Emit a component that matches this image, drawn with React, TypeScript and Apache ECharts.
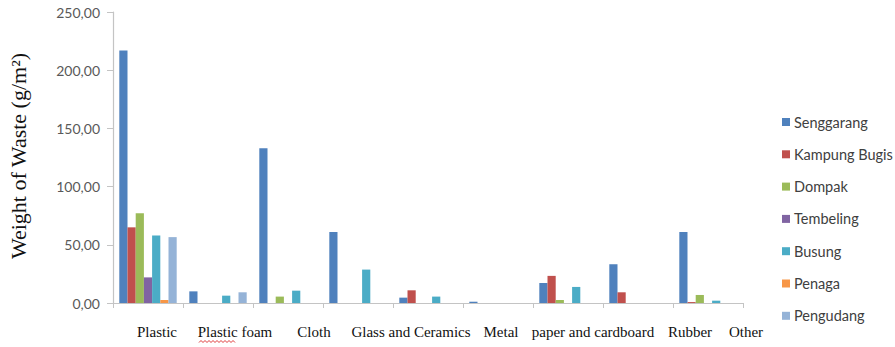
import React, { useEffect, useRef } from "react";
import * as echarts from "echarts";

// Nine bar groups along the x axis (one slot per group)
const slots = ["1", "2", "3", "4", "5", "6", "7", "8", "9"];

// Waste type captions printed beneath the axis
const wasteTypes = [
  "Plastic",
  "Plastic foam",
  "Cloth",
  "Glass and Ceramics",
  "Metal",
  "paper and cardboard",
  "Rubber",
  "Other",
];

const locations = [
  "Senggarang",
  "Kampung Bugis",
  "Dompak",
  "Tembeling",
  "Busung",
  "Penaga",
  "Pengudang",
];

// Weight of waste (g/m²) per location, one value per slot
const senggarang = [217, 10, 133, 61, 4.6, 1.1, 17.2, 33.3, 61];
const kampungBugis = [65, 0, 0, 0, 10.9, 0, 23.3, 9.2, 0.8];
const dompak = [77, 0, 5.5, 0, 0, 0, 2.6, 0, 6.9];
const tembeling = [22, 0, 0, 0, 0, 0, 0, 0, 0];
const busung = [58, 6.3, 10.6, 28.7, 5.5, 0, 13.8, 0, 2.0];
const penaga = [2.6, 0, 0, 0, 0, 0, 0, 0, 0];
const pengudang = [56.6, 9.2, 0, 0, 0, 0, 0, 0, 0];

const seriesValues = [senggarang, kampungBugis, dompak, tembeling, busung, penaga, pengudang];
const colors = ["#4F81BD", "#C0504D", "#9BBB59", "#8064A2", "#4BACC6", "#F79646", "#95B3D7"];

// Horizontal centres of the captions under the axis
const captionX = [157, 235, 314, 411, 501, 593, 690, 746];

export default function App() {
  const ref = useRef<HTMLDivElement>(null);

  useEffect(() => {
    if (!ref.current) return;
    const chart = echarts.init(ref.current, null, { renderer: "svg" });

    const wave: number[][] = [];
    for (let x = 199, i = 0; x <= 236; x += 2, i++) {
      wave.push([x, i % 2 === 0 ? 342.5 : 340.5]);
    }

    chart.setOption({
      animation: false,
      backgroundColor: "#ffffff",
      color: colors,
      grid: { left: 113, right: 152, top: 12, bottom: 44 },
      legend: {
        orient: "vertical",
        left: 777,
        top: 109,
        icon: "rect",
        itemWidth: 8,
        itemHeight: 8,
        itemGap: 16.3,
        data: locations,
        textStyle: {
          fontFamily: "Lato",
          fontSize: 14.5,
          lineHeight: 16,
          color: "#404040",
          padding: [0, 0, 0, -1],
        },
      },
      xAxis: {
        type: "category",
        data: slots,
        axisLine: { lineStyle: { color: "#c4c4c4", width: 1.2 } },
        axisTick: { show: true, length: 5, lineStyle: { color: "#c4c4c4" } },
        axisLabel: { show: false },
      },
      yAxis: {
        type: "value",
        min: 0,
        max: 250,
        interval: 50,
        axisLine: { show: true, lineStyle: { color: "#c4c4c4", width: 1.2 } },
        axisTick: { show: true, length: 6, lineStyle: { color: "#c4c4c4" } },
        splitLine: { show: false },
        axisLabel: {
          fontFamily: "Lato",
          fontSize: 14,
          color: "#595959",
          margin: 13,
          formatter: (v: number) => v.toFixed(2).replace(".", ","),
        },
      },
      series: locations.map((name, i) => ({
        name,
        type: "bar",
        data: seriesValues[i],
        barGap: "0%",
        barCategoryGap: "18%",
        itemStyle: { color: colors[i] },
      })),
      graphic: [
        {
          type: "text",
          x: 18,
          y: 156,
          rotation: Math.PI / 2,
          style: {
            text: "Weight of Waste (g/m²)",
            fontFamily: "Liberation Serif",
            fontSize: 22,
            fill: "#111",
            align: "center",
            verticalAlign: "middle",
          },
        },
        ...wasteTypes.map((t, i) => ({
          type: "text",
          x: captionX[i],
          y: 332,
          style: {
            text: t,
            fontFamily: "Liberation Serif",
            fontSize: 15,
            fill: "#111",
            align: "center",
            verticalAlign: "middle",
          },
        })),
        {
          type: "polyline",
          shape: { points: wave },
          style: { stroke: "#e03a3a", lineWidth: 1, fill: null },
        },
      ],
    });

    return () => chart.dispose();
  }, []);

  return (
    <div
      ref={ref}
      style={{ position: "fixed", left: 0, top: 0, width: 895, height: 347 }}
    />
  );
}
